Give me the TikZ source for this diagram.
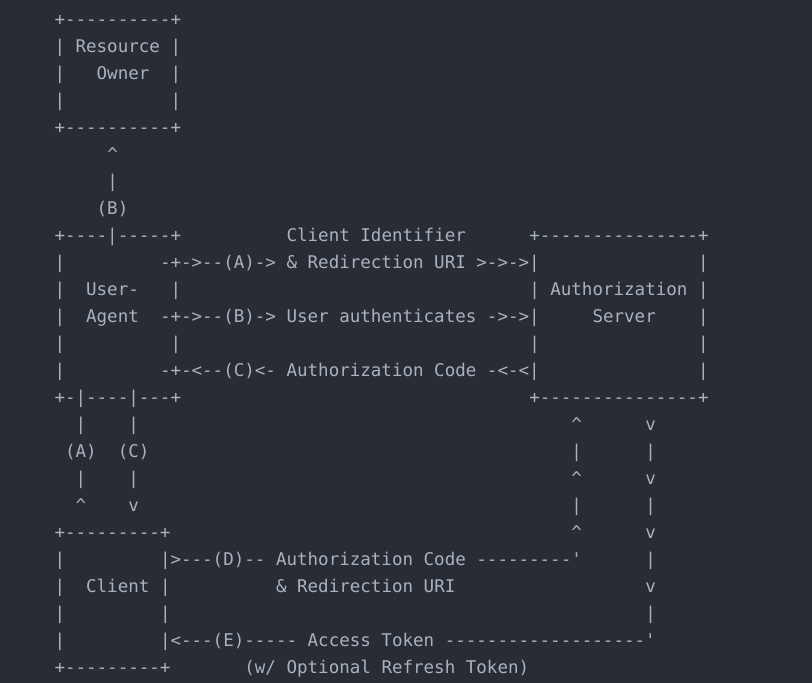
\documentclass[tikz,border=0pt]{standalone}
\usepackage{fontspec}
\setmonofont{DejaVu Sans Mono}
\definecolor{bgc}{HTML}{282C34}
\definecolor{fgc}{HTML}{ABB2BF}
\tikzset{txt/.style={anchor=base west,inner sep=0pt,outer sep=0pt,text=fgc,font=\ttfamily\fontsize{17.52}{27}\selectfont}}
\def\asc#1#2#3#4{\node[txt] (#1) at ({54.5+10.55*#2},{683-25.3-27*#3}) {#4};}
\begin{document}
\begin{tikzpicture}[x=1pt,y=1pt]
\fill[bgc] (0,0) rectangle (812,683);
\useasboundingbox (0,0) rectangle (812,683);
% Resource Owner
\asc{ro0}{0}{0}{+----------+}
\asc{ro1a}{0}{1}{|}\asc{ro1b}{2}{1}{Resource}\asc{ro1c}{11}{1}{|}
\asc{ro2a}{0}{2}{|}\asc{ro2b}{4}{2}{Owner}\asc{ro2c}{11}{2}{|}
\asc{ro3a}{0}{3}{|}\asc{ro3c}{11}{3}{|}
\asc{ro4}{0}{4}{+----------+}
\asc{b5}{5}{5}{\textasciicircum}
\asc{b6}{5}{6}{|}
\asc{b7}{4}{7}{(B)}
% User-Agent and Authorization Server
\asc{r8a}{0}{8}{+----|-----+}\asc{r8b}{22}{8}{Client Identifier}\asc{r8c}{45}{8}{+---------------+}
\asc{r9a}{0}{9}{|}\asc{r9b}{10}{9}{-+->--(A)-> \& Redirection URI >->->|}\asc{r9c}{61}{9}{|}
\asc{r10a}{0}{10}{|}\asc{r10b}{3}{10}{User-}\asc{r10c}{11}{10}{|}\asc{r10d}{45}{10}{|}\asc{r10e}{47}{10}{Authorization}\asc{r10f}{61}{10}{|}
\asc{r11a}{0}{11}{|}\asc{r11b}{3}{11}{Agent}\asc{r11c}{10}{11}{-+->--(B)-> User authenticates ->->|}\asc{r11d}{51}{11}{Server}\asc{r11e}{61}{11}{|}
\asc{r12a}{0}{12}{|}\asc{r12b}{11}{12}{|}\asc{r12c}{45}{12}{|}\asc{r12d}{61}{12}{|}
\asc{r13a}{0}{13}{|}\asc{r13b}{10}{13}{-+-<--(C)<- Authorization Code -<-<|}\asc{r13c}{61}{13}{|}
\asc{r14a}{0}{14}{+-|----|---+}\asc{r14b}{45}{14}{+---------------+}
% vertical links
\asc{r15a}{2}{15}{|}\asc{r15b}{7}{15}{|}\asc{r15c}{49}{15}{\textasciicircum}\asc{r15d}{56}{15}{v}
\asc{r16a}{1}{16}{(A)}\asc{r16b}{6}{16}{(C)}\asc{r16c}{49}{16}{|}\asc{r16d}{56}{16}{|}
\asc{r17a}{2}{17}{|}\asc{r17b}{7}{17}{|}\asc{r17c}{49}{17}{\textasciicircum}\asc{r17d}{56}{17}{v}
\asc{r18a}{2}{18}{\textasciicircum}\asc{r18b}{7}{18}{v}\asc{r18c}{49}{18}{|}\asc{r18d}{56}{18}{|}
% Client
\asc{r19a}{0}{19}{+---------+}\asc{r19c}{49}{19}{\textasciicircum}\asc{r19d}{56}{19}{v}
\asc{r20a}{0}{20}{|}\asc{r20b}{10}{20}{|>---(D)-- Authorization Code ---------'}\asc{r20c}{56}{20}{|}
\asc{r21a}{0}{21}{|}\asc{r21b}{3}{21}{Client}\asc{r21c}{10}{21}{|}\asc{r21d}{21}{21}{\& Redirection URI}\asc{r21e}{56}{21}{v}
\asc{r22a}{0}{22}{|}\asc{r22b}{10}{22}{|}\asc{r22c}{56}{22}{|}
\asc{r23a}{0}{23}{|}\asc{r23b}{10}{23}{|<---(E)----- Access Token -------------------'}
\asc{r24a}{0}{24}{+---------+}\asc{r24b}{18}{24}{(w/ Optional Refresh Token)}
\end{tikzpicture}
\end{document}
